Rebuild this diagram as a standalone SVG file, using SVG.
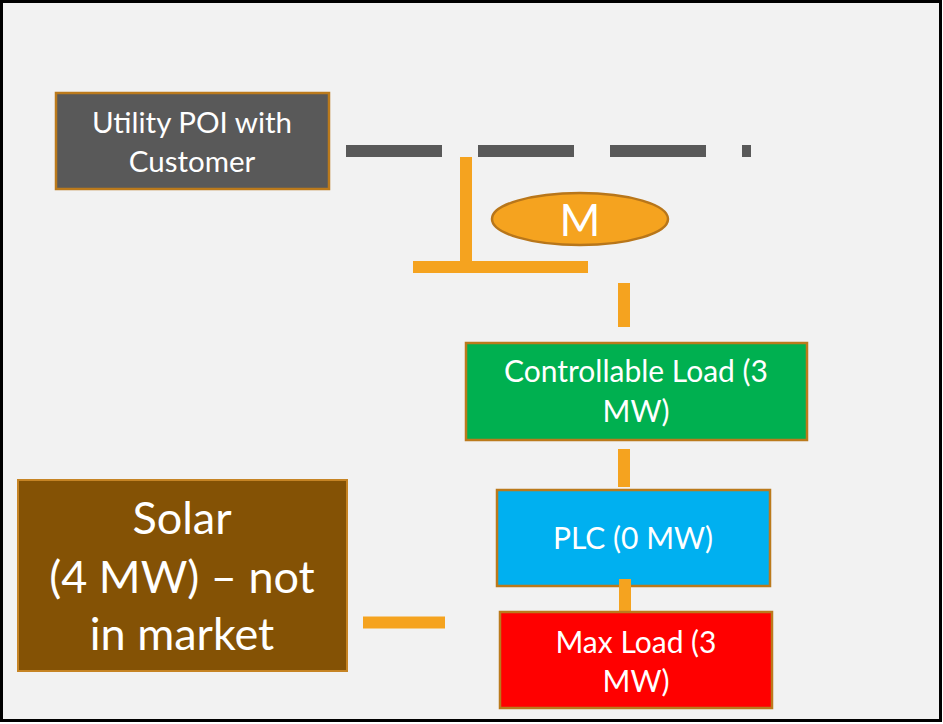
<svg xmlns="http://www.w3.org/2000/svg" width="943" height="724" viewBox="0 0 943 724">
<style>
.box{stroke:#bb7a1c;stroke-width:2.5}
.t{font-family:Lato,"Open Sans","Liberation Sans",sans-serif;fill:#ffffff;text-anchor:middle}
.wire{stroke:#f5a31f;stroke-width:12;fill:none}
</style>
<rect x="1.5" y="1.5" width="939" height="719" fill="#f2f2f2" stroke="#000" stroke-width="3"/>
<g id="connectors">
<line x1="346" y1="151" x2="751" y2="151" stroke="#595959" stroke-width="12" stroke-dasharray="96 36"/>
<line class="wire" x1="466" y1="157" x2="466" y2="267"/>
<line class="wire" x1="413" y1="267" x2="588" y2="267"/>
<line class="wire" x1="624" y1="283" x2="624" y2="327"/>
<line class="wire" x1="624" y1="449" x2="624" y2="487"/>
<line class="wire" x1="363" y1="622.5" x2="445" y2="622.5"/>
</g>
<g id="utility">
<rect class="box" x="56" y="93" width="273" height="96" fill="#595959"/>
<text class="t" x="192" y="133" font-size="29.5">Utility POI with</text>
<text class="t" x="192" y="172" font-size="29.5">Customer</text>
</g>
<g id="meter">
<ellipse cx="580" cy="219" rx="88" ry="26" fill="#f5a31f" stroke="#b8761a" stroke-width="2.5"/>
<text class="t" x="580" y="236" font-size="44">M</text>
</g>
<g id="controllable">
<rect class="box" x="466" y="343" width="341" height="97" fill="#00b050"/>
<text class="t" x="636" y="382" font-size="30">Controllable Load (3</text>
<text class="t" x="636" y="422" font-size="30">MW)</text>
</g>
<g id="plc">
<rect class="box" x="497" y="490" width="273" height="96" fill="#00b0f0"/>
<text class="t" x="633" y="549" font-size="30">PLC (0 MW)</text>
</g>
<line class="wire" x1="625" y1="579" x2="625" y2="612"/>
<g id="maxload">
<rect class="box" x="500" y="612" width="272" height="96" fill="#ff0000"/>
<text class="t" x="636" y="653" font-size="30">Max Load (3</text>
<text class="t" x="636" y="692" font-size="30">MW)</text>
</g>
<g id="solar">
<rect x="18" y="480" width="329" height="191" fill="#845205" stroke="#c68424" stroke-width="2"/>
<text class="t" x="182" y="534" font-size="45">Solar</text>
<text class="t" x="182" y="593" font-size="45">(4 MW) – not</text>
<text class="t" x="182" y="650" font-size="45">in market</text>
</g>
</svg>
